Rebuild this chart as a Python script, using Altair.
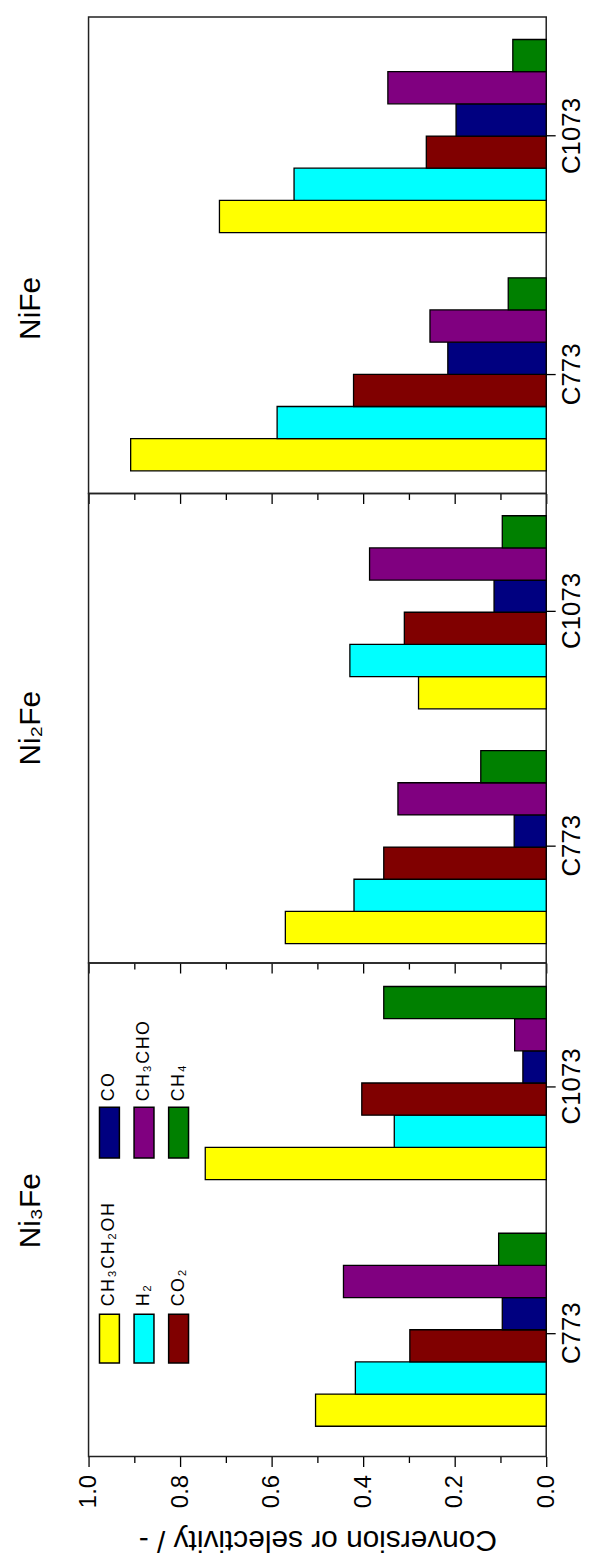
import altair as alt
import pandas as pd

FONT = "Liberation Sans"

# ---------------- data ----------------
panels = ["NiFe", "Ni2Fe", "Ni3Fe"]
panel_titles = ["NiFe", "Ni₂Fe", "Ni₃Fe"]
categories = ["C773", "C1073"]
series = ["CH₃CH₂OH", "H₂", "CO₂", "CO", "CH₃CHO", "CH₄"]
series_colors = ["#FFFF00", "#00FFFF", "#800000", "#000080", "#800080", "#008000"]

NiFe_C773 = [0.908, 0.588, 0.421, 0.215, 0.254, 0.083]
NiFe_C1073 = [0.714, 0.551, 0.262, 0.197, 0.346, 0.073]
Ni2Fe_C773 = [0.570, 0.420, 0.355, 0.070, 0.324, 0.143]
Ni2Fe_C1073 = [0.279, 0.429, 0.310, 0.114, 0.386, 0.096]
Ni3Fe_C773 = [0.504, 0.417, 0.298, 0.096, 0.443, 0.104]
Ni3Fe_C1073 = [0.745, 0.332, 0.403, 0.051, 0.069, 0.355]

x_tick_values = [0.0, 0.1, 0.2, 0.3, 0.4, 0.5, 0.6, 0.7, 0.8, 0.9, 1.0]
axis_title = "Conversion or selectivity / -"

panel_values = {
    "NiFe": (NiFe_C773, NiFe_C1073),
    "Ni2Fe": (Ni2Fe_C773, Ni2Fe_C1073),
    "Ni3Fe": (Ni3Fe_C773, Ni3Fe_C1073),
}

rows = []
for p in panels:
    for cat, vals in zip(categories, panel_values[p]):
        for s, v in zip(series, vals):
            rows.append({"panel": p, "category": cat, "series": s, "value": v})
df = pd.DataFrame(rows)

# ---------------- layout ----------------
panel_heights = [479, 472, 496]
title_y = [293, 236, 249]
PLOT_W = 460


def spread(t):
    return "\u200a".join(list(t))


def make_panel(i):
    name = panels[i]
    is_bottom = i == len(panels) - 1

    tick_size = {"condition": {"test": "round(datum.value*10) % 2 == 0", "value": 10}, "value": 6}
    if is_bottom:
        x_axis = alt.Axis(
            values=x_tick_values, grid=False, domain=False,
            tickColor="black", tickWidth=1.3, tickSize=tick_size,
            labelExpr="round(datum.value*10) % 2 == 0 ? format(datum.value, '.1f') : ''",
            labelAngle=270, labelAlign="right", labelBaseline="middle",
            labelFontSize=24, labelFont=FONT, labelColor="black", labelPadding=8,
            title=axis_title, titleFont=FONT, titleFontSize=30, titleFontWeight="normal",
            titleColor="black", titleAngle=180, titleBaseline="bottom", titlePadding=17,
        )
    else:
        x_axis = alt.Axis(
            values=x_tick_values, grid=False, domain=False,
            tickColor="black", tickWidth=1.3, tickSize=tick_size,
            labels=False, title=None,
        )

    bars = alt.Chart(df).transform_filter(alt.datum.panel == name).mark_bar(
        stroke="black", strokeWidth=1.3
    ).encode(
        x=alt.X("value:Q", scale=alt.Scale(domain=[0, 1], reverse=True, nice=False, zero=True), axis=x_axis),
        y=alt.Y(
            "category:N", sort=["C1073", "C773"],
            scale=alt.Scale(paddingInner=0.19, paddingOuter=0.095),
            axis=alt.Axis(
                orient="right", title=None, domain=False, grid=False,
                tickSize=9, tickColor="black", tickWidth=1.3,
                labelAngle=270, labelAlign="center", labelBaseline="top",
                labelFontSize=26, labelFont=FONT, labelColor="black", labelPadding=3,
            ),
        ),
        yOffset=alt.YOffset("series:N", sort=series[::-1], scale=alt.Scale(paddingInner=0, paddingOuter=0)),
        color=alt.Color("series:N", scale=alt.Scale(domain=series, range=series_colors), legend=None),
    )

    title = alt.Chart(pd.DataFrame({"label": [panel_titles[i]]})).mark_text(
        angle=270, align="center", baseline="middle", fontSize=30, font=FONT, color="black"
    ).encode(text="label:N", x=alt.value(-58), y=alt.value(title_y[i]))

    layers = [bars, title]

    if is_bottom:
        for k, s in enumerate(series):
            col = k // 3
            row = k % 3
            cx = 21 + row * 34.75
            if col == 0:
                y0, y1, ty = 353, 402, 345
            else:
                y0, y1, ty = 145, 196, 139
            sw = alt.Chart(pd.DataFrame({"series": [s]})).mark_rect(
                stroke="black", strokeWidth=1.5, fill=series_colors[k]
            ).encode(
                x=alt.value(cx - 10), x2=alt.value(cx + 10),
                y=alt.value(y0), y2=alt.value(y1),
            )
            lab = alt.Chart(pd.DataFrame({"label": [spread(s)]})).mark_text(
                angle=270, align="left", baseline="middle", fontSize=18, font=FONT, color="black"
            ).encode(text="label:N", x=alt.value(cx), y=alt.value(ty))
            layers += [sw, lab]

    return alt.layer(*layers).properties(width=PLOT_W, height=panel_heights[i])


chart = alt.vconcat(
    *[make_panel(i) for i in range(len(panels))], spacing=0, bounds="flush"
).configure_view(
    stroke="#222222", strokeWidth=1.5
).properties(
    padding={"left": 15, "top": 12, "right": 5, "bottom": 0},
    background="white",
)

chart.save("out.html", embed_options={"renderer": "svg", "actions": False})
